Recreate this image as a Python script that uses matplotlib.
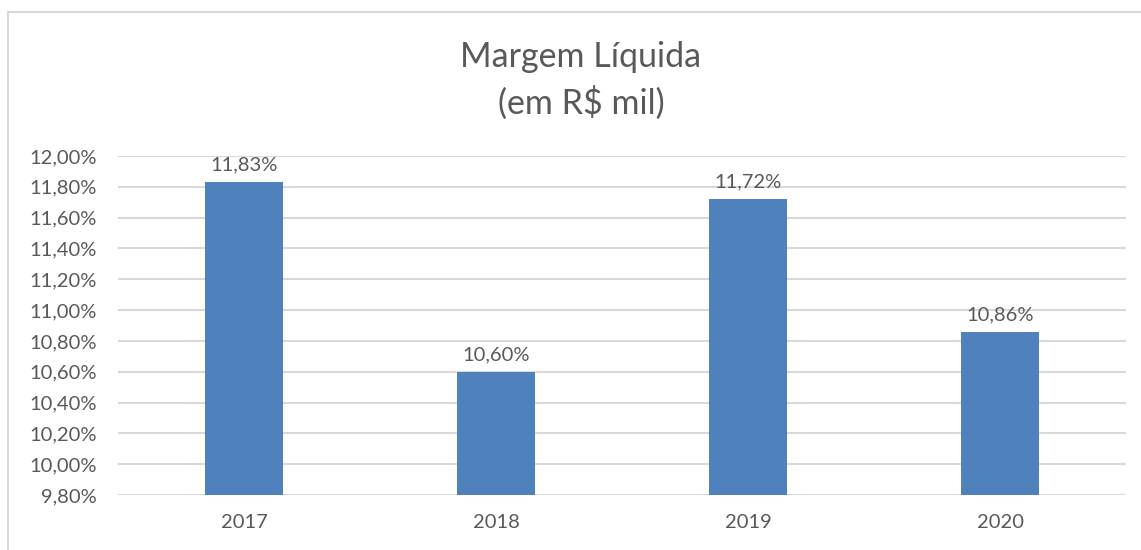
import matplotlib.pyplot as plt
from matplotlib.patches import Rectangle
from matplotlib.ticker import FuncFormatter

anos = ['2017', '2018', '2019', '2020']
margem = [11.83, 10.60, 11.72, 10.86]
ticks_y = [9.8, 10.0, 10.2, 10.4, 10.6, 10.8, 11.0, 11.2, 11.4, 11.6, 11.8, 12.0]

texto = '#595959'
grade = '#D9D9D9'
azul = '#4F81BD'

plt.rcParams['font.family'] = ['Lato', 'DejaVu Sans']

fig = plt.figure(figsize=(11.41, 5.5), dpi=100)
# moldura cinza do grafico (estilo Excel)
fig.patches.append(Rectangle((8 / 1141, -0.01), 1.2, 1 - (-0.01) - 12 / 550,
                             transform=fig.transFigure, fill=False,
                             edgecolor=grade, linewidth=1.5))

ax = fig.add_axes([118 / 1141, 1 - 495 / 550, 1008 / 1141, (495 - 156) / 550])
x = range(len(anos))
barras = ax.bar(x, margem, width=0.31, color=azul, zorder=3)

for xi, v in zip(x, margem):
    ax.annotate(f'{v:.2f}%'.replace('.', ','), (xi, v), xytext=(0, 6),
                textcoords='offset points', ha='center', va='bottom',
                fontsize=14.5, color=texto)

ax.set_xlim(-0.5, len(anos) - 0.5)
ax.set_ylim(9.8, 12.0)
ax.set_yticks(ticks_y)
ax.yaxis.set_major_formatter(FuncFormatter(lambda v, p: f'{v:.2f}%'.replace('.', ',')))
ax.set_xticks(list(x))
ax.set_xticklabels(anos)
ax.tick_params(axis='both', length=0, labelsize=14.5, colors=texto)
ax.tick_params(axis='x', pad=14)
ax.tick_params(axis='y', pad=15)
ax.grid(axis='y', color=grade, linewidth=1.5, zorder=0)
ax.set_axisbelow(True)
for s in ax.spines.values():
    s.set_visible(False)

fig.text(581 / 1141, 1 - 57 / 550, 'Margem Líquida', ha='center', va='center',
         fontsize=24.5, color=texto)
fig.text(581 / 1141, 1 - 103 / 550, '(em R$ mil)', ha='center', va='center',
         fontsize=24.5, color=texto)

fig.savefig('out.png', dpi=100, facecolor='white')
